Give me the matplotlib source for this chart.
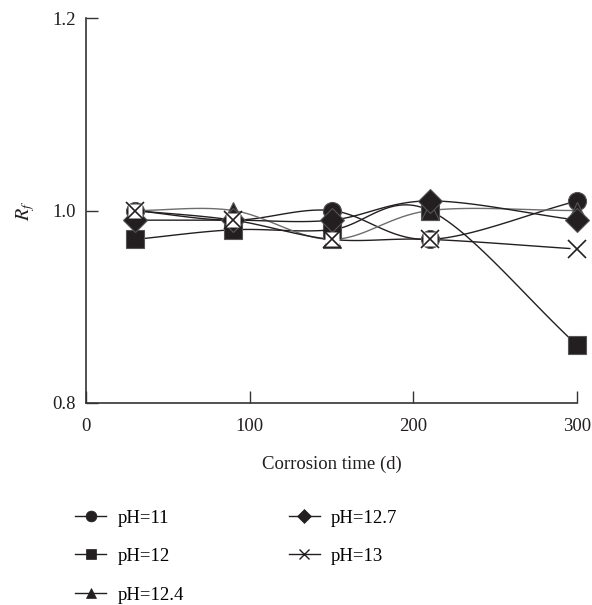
import numpy as np
import matplotlib
matplotlib.use("Agg")
import matplotlib.pyplot as plt

plt.rcParams['font.family'] = ['Liberation Serif', 'DejaVu Serif']
plt.rcParams['mathtext.fontset'] = 'stix'

# datos
dias = [30, 90, 150, 210, 300]
etiquetas = ['pH=11', 'pH=12', 'pH=12.4', 'pH=12.7', 'pH=13']
rf_ph11 = [1.00, 0.99, 1.00, 0.97, 1.01]
rf_ph12 = [0.97, 0.98, 0.98, 1.00, 0.86]
rf_ph124 = [1.00, 1.00, 0.97, 1.00, 1.00]
rf_ph127 = [0.99, 0.99, 0.99, 1.01, 0.99]
rf_ph13 = [1.00, 0.99, 0.97, 0.97, 0.96]

series = [rf_ph11, rf_ph12, rf_ph124, rf_ph127, rf_ph13]
marcadores = ['o', 's', '^', 'D', 'x']
tamanos = [13, 12.5, 12.5, 12, 12.5]
colores_linea = ['#231f20', '#231f20', '#6d6d6d', '#231f20', '#231f20']
tam_letra = 13.5


def suavizar(x, y, n=30):
    # curva tipo Catmull-Rom solo para dibujar la linea suavizada
    x = np.asarray(x, float)
    y = np.asarray(y, float)
    px = np.concatenate([[2 * x[0] - x[1]], x, [2 * x[-1] - x[-2]]])
    py = np.concatenate([[2 * y[0] - y[1]], y, [2 * y[-1] - y[-2]]])
    xs, ys = [], []
    t = np.linspace(0, 1, n)
    for i in range(1, len(px) - 2):
        for p, out in ((px, xs), (py, ys)):
            p0, p1, p2, p3 = p[i - 1], p[i], p[i + 1], p[i + 2]
            out.extend(0.5 * ((2 * p1) + (-p0 + p2) * t
                              + (2 * p0 - 5 * p1 + 4 * p2 - p3) * t ** 2
                              + (-p0 + 3 * p1 - 3 * p2 + p3) * t ** 3))
    return np.array(xs), np.array(ys)


fig = plt.figure(figsize=(5.92, 6.05), dpi=100)
ax = fig.add_axes([0.145, 0.334, 0.83, 0.636])

handles = []
for y, lab, m, ms, c in zip(series, etiquetas, marcadores, tamanos, colores_linea):
    xs, ys = suavizar(dias, y)
    ax.plot(xs, ys, color=c, lw=1.0, zorder=2)
    if m == 'x':
        # fondo blanco detras de las cruces, como en la figura original
        ax.plot(dias, y, linestyle='none', marker='s', ms=ms * 0.85,
                mfc='white', mec='none', clip_on=False, zorder=4)
        ax.plot(dias, y, linestyle='none', marker=m, ms=ms, mew=1.2,
                color='#231f20', clip_on=False, zorder=5)
    else:
        ax.plot(dias, y, linestyle='none', marker=m, ms=ms, mfc='#231f20',
                mec='#555555', mew=0.8, clip_on=False, zorder=3)
    h, = ax.plot([], [], color='#231f20', lw=1.0, marker=m,
                 ms=ms * 0.6, mfc='#231f20', mec='#231f20',
                 mew=1.0 if m == 'x' else 0.5)
    handles.append(h)

ax.set_xlim(0, 300)
ax.set_ylim(0.8, 1.2)
ax.set_xticks([0, 100, 200, 300])
ax.set_yticks([0.8, 1.0, 1.2])
ax.set_yticklabels(['0.8', '1.0', '1.2'])
for s in ['top', 'right']:
    ax.spines[s].set_visible(False)
for s in ['left', 'bottom']:
    ax.spines[s].set_color('#333333')
    ax.spines[s].set_linewidth(1.2)
ax.tick_params(direction='in', length=8.5, width=1.0, colors='#333333',
               labelsize=tam_letra, labelcolor='#231f20', pad=7)
ax.tick_params(axis='x', pad=11)
ax.set_xlabel('Corrosion time (d)', fontsize=tam_letra, color='#231f20',
              labelpad=15)
ax.set_ylabel('$R_f$', fontsize=tam_letra + 1, color='#231f20', labelpad=11)

fig.legend(handles, etiquetas, loc='upper left', bbox_to_anchor=(0.127, 0.158),
           ncol=2, frameon=False, fontsize=tam_letra, borderpad=0,
           borderaxespad=0, handlelength=1.65, handletextpad=0.6,
           columnspacing=5.6, labelspacing=1.14)

fig.savefig('out.png', dpi=100)
